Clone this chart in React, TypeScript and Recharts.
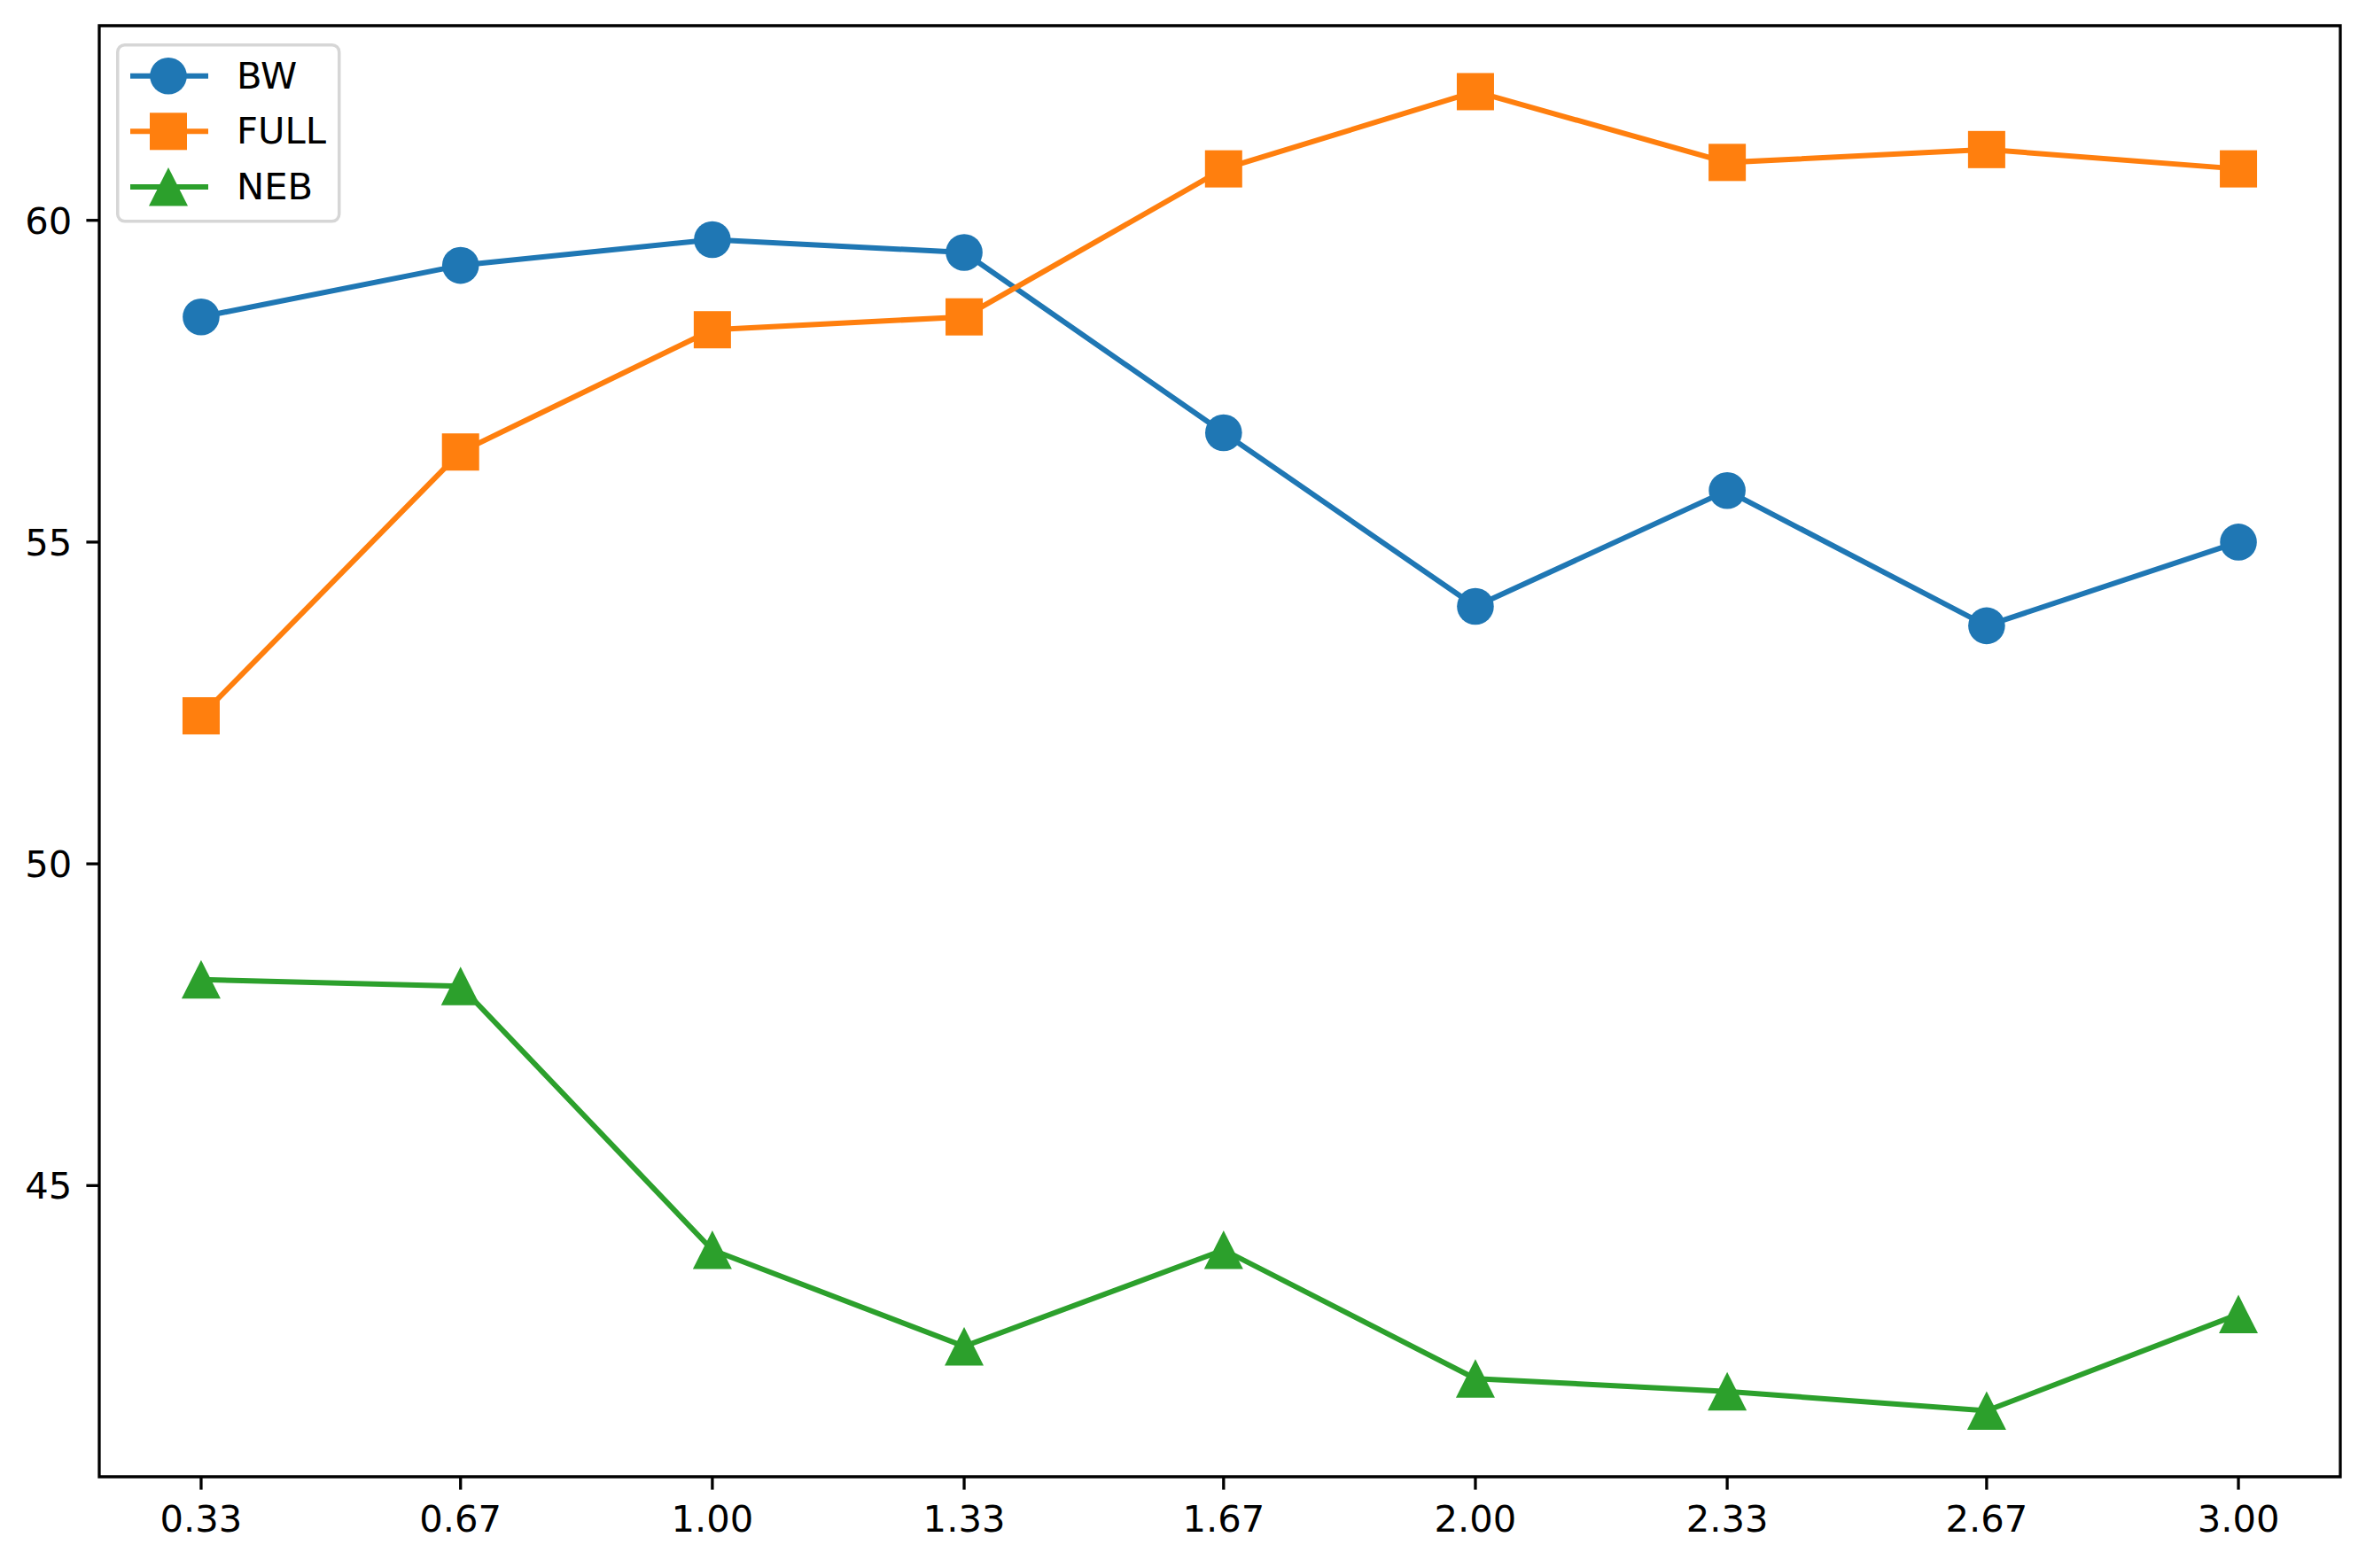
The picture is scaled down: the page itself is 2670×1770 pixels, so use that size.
import { Legend, Line, LineChart, ReferenceArea, XAxis, YAxis } from 'recharts'

// x categories (ratio) and the three series
const CATEGORIES = ['0.33', '0.67', '1.00', '1.33', '1.67', '2.00', '2.33', '2.67', '3.00']
const BW = [58.5, 59.3, 59.7, 59.5, 56.7, 54.0, 55.8, 53.7, 55.0]
const FULL = [52.3, 56.4, 58.3, 58.5, 60.8, 62.0, 60.9, 61.1, 60.8]
const NEB = [48.2, 48.1, 44.0, 42.5, 44.0, 42.0, 41.8, 41.5, 43.0]
const Y_TICKS = [45, 50, 55, 60]

// the x values are the rounded numbers themselves, so spacing is slightly uneven
const X_VALUES = CATEGORIES.map(Number)
const data = CATEGORIES.map((label, i) => ({ x: X_VALUES[i], label, BW: BW[i], FULL: FULL[i], NEB: NEB[i] }))

// matplotlib-style autoscale: 5% margin each side
const xMin = Math.min(...X_VALUES)
const xMax = Math.max(...X_VALUES)
const xPad = (xMax - xMin) * 0.05
const X_DOMAIN: [number, number] = [xMin - xPad, xMax + xPad]
const Y_DOMAIN: [number, number] = [40.475, 63.025]

const FONT = "'DejaVu Sans', sans-serif"
const FS = 41.7
const TICK = { fontSize: FS, fill: '#000', fontFamily: FONT }
const TICK_LINE = { stroke: '#000', strokeWidth: 3.3 }
const LW = 6

const BLUE = '#1f77b4'
const ORANGE = '#ff7f0e'
const GREEN = '#2ca02c'

type Shape = 'circle' | 'square' | 'triangle'

function marker(shape: Shape, color: string, cx: number, cy: number, key?: string | number) {
  if (shape === 'circle') return <circle key={key} cx={cx} cy={cy} r={20.8} fill={color} />
  if (shape === 'square') return <rect key={key} x={cx - 21} y={cy - 21} width={42} height={42} fill={color} />
  return (
    <polygon
      key={key}
      points={`${cx},${cy - 22} ${cx - 22},${cy + 21.5} ${cx + 22},${cy + 21.5}`}
      fill={color}
    />
  )
}

const dotFor = (shape: Shape, color: string) => (p: any) =>
  p.cx == null || p.cy == null ? <g key={p.index} /> : marker(shape, color, p.cx, p.cy, p.index)

const SERIES: { key: 'BW' | 'FULL' | 'NEB'; color: string; shape: Shape }[] = [
  { key: 'BW', color: BLUE, shape: 'circle' },
  { key: 'FULL', color: ORANGE, shape: 'square' },
  { key: 'NEB', color: GREEN, shape: 'triangle' },
]

function LegendBox() {
  return (
    <svg width={254} height={204} style={{ display: 'block' }}>
      <rect x={1.75} y={1.75} width={250} height={199} rx={8} fill="#fff" stroke="#d6d6d6" strokeWidth={3.5} />
      {SERIES.map((s, k) => {
        const y = 36.7 + k * 62.6
        return (
          <g key={s.key}>
            <line x1={16} x2={104} y1={y} y2={y} stroke={s.color} strokeWidth={LW} />
            {marker(s.shape, s.color, 59, y)}
            <text x={136} y={y + 14} fontSize={FS} fontFamily={FONT} fill="#000">
              {s.key}
            </text>
          </g>
        )
      })}
    </svg>
  )
}

export default function App() {
  return (
    <div style={{ position: 'absolute', left: 0, top: 0, width: 2670, height: 1770, background: '#fff' }}>
      <LineChart width={2670} height={1770} data={data} margin={{ top: 29, right: 29, left: 0, bottom: 0 }}>
        <XAxis
          dataKey="x"
          type="number"
          domain={X_DOMAIN}
          ticks={X_VALUES}
          tickFormatter={(v: number) => v.toFixed(2)}
          allowDataOverflow
          height={103}
          tick={TICK}
          tickLine={TICK_LINE}
          tickSize={14.6}
          tickMargin={18}
          axisLine={false}
        />
        <YAxis
          type="number"
          domain={Y_DOMAIN}
          ticks={Y_TICKS}
          allowDataOverflow
          width={112}
          tick={TICK}
          tickLine={TICK_LINE}
          tickSize={14.6}
          tickMargin={16}
          axisLine={false}
        />
        <ReferenceArea
          x1={X_DOMAIN[0]}
          x2={X_DOMAIN[1]}
          y1={Y_DOMAIN[0]}
          y2={Y_DOMAIN[1]}
          fill="none"
          fillOpacity={0}
          stroke="#000"
          strokeWidth={3.3}
          strokeOpacity={1}
          ifOverflow="visible"
        />
        {SERIES.map((s) => (
          <Line
            key={s.key}
            dataKey={s.key}
            type="linear"
            stroke={s.color}
            strokeWidth={LW}
            dot={dotFor(s.shape, s.color)}
            activeDot={false}
            isAnimationActive={false}
          />
        ))}
        <Legend
          layout="vertical"
          align="center"
          verticalAlign="middle"
          wrapperStyle={{ left: 131, top: 49, width: 254, height: 204 }}
          content={() => <LegendBox />}
        />
      </LineChart>
    </div>
  )
}
